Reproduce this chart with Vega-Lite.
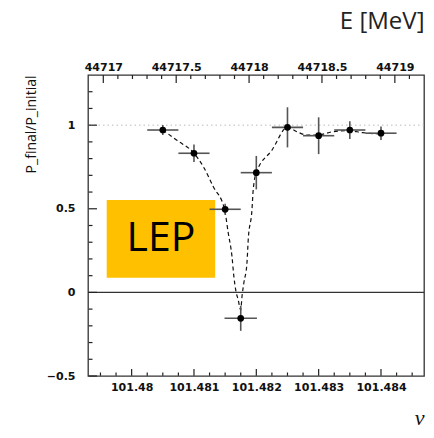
{
  "$schema": "https://vega.github.io/schema/vega-lite/v6.json",
  "width": 336,
  "height": 301,
  "autosize": "none",
  "padding": {"left": 88, "top": 75, "right": 10, "bottom": 62},
  "background": "white",
  "config": {
    "view": {"stroke": "#333", "strokeWidth": 1.3},
    "axis": {
      "labelFont": "DejaVu Sans",
      "labelFontWeight": "bold",
      "labelFontSize": 11,
      "labelColor": "#111",
      "ticks": false,
      "domain": false,
      "grid": false
    }
  },
  "datasets": {
    "points": [
      {"nu": 101.4805, "p": 0.971, "nuLo": 101.48025, "nuHi": 101.48075, "pLo": 0.941, "pHi": 1.001},
      {"nu": 101.481, "p": 0.832, "nuLo": 101.48075, "nuHi": 101.48125, "pLo": 0.779, "pHi": 0.885},
      {"nu": 101.4815, "p": 0.497, "nuLo": 101.48125, "nuHi": 101.48175, "pLo": 0.465, "pHi": 0.53},
      {"nu": 101.48175, "p": -0.155, "nuLo": 101.48149, "nuHi": 101.48201, "pLo": -0.23, "pHi": -0.08},
      {"nu": 101.482, "p": 0.716, "nuLo": 101.48175, "nuHi": 101.48225, "pLo": 0.616, "pHi": 0.816},
      {"nu": 101.4825, "p": 0.987, "nuLo": 101.48225, "nuHi": 101.48275, "pLo": 0.867, "pHi": 1.107},
      {"nu": 101.483, "p": 0.937, "nuLo": 101.48275, "nuHi": 101.48325, "pLo": 0.827, "pHi": 1.047},
      {"nu": 101.4835, "p": 0.971, "nuLo": 101.48325, "nuHi": 101.48375, "pLo": 0.918, "pHi": 1.024},
      {"nu": 101.484, "p": 0.952, "nuLo": 101.48375, "nuHi": 101.48425, "pLo": 0.912, "pHi": 0.992}
    ],
    "curve": [
      {"nu": 101.4805, "p": 0.971},
      {"nu": 101.48072, "p": 0.911},
      {"nu": 101.481, "p": 0.832},
      {"nu": 101.48115, "p": 0.752},
      {"nu": 101.48131, "p": 0.632},
      {"nu": 101.48149, "p": 0.497},
      {"nu": 101.48155, "p": 0.355},
      {"nu": 101.48161, "p": 0.214},
      {"nu": 101.48164, "p": 0.094},
      {"nu": 101.48167, "p": 0.014},
      {"nu": 101.48171, "p": -0.045},
      {"nu": 101.48175, "p": -0.105},
      {"nu": 101.48177, "p": -0.026},
      {"nu": 101.4818, "p": 0.056},
      {"nu": 101.48185, "p": 0.176},
      {"nu": 101.48187, "p": 0.313},
      {"nu": 101.48193, "p": 0.493},
      {"nu": 101.48195, "p": 0.612},
      {"nu": 101.482, "p": 0.716},
      {"nu": 101.48225, "p": 0.85},
      {"nu": 101.4825, "p": 0.987},
      {"nu": 101.48265, "p": 0.961},
      {"nu": 101.48281, "p": 0.941},
      {"nu": 101.48298, "p": 0.941},
      {"nu": 101.48323, "p": 0.961},
      {"nu": 101.48348, "p": 0.967},
      {"nu": 101.48371, "p": 0.955},
      {"nu": 101.48398, "p": 0.947}
    ],
    "box": [
      {"nu": 101.4796, "nu2": 101.48134, "p": 0.553, "p2": 0.088, "nuc": 101.48047, "pc": 0.322, "label": "LEP"}
    ],
    "nuMajor": [{"v": 101.48}, {"v": 101.481}, {"v": 101.482}, {"v": 101.483}, {"v": 101.484}],
    "nuMinor": [{"v": 101.4795}, {"v": 101.47975}, {"v": 101.48025}, {"v": 101.4805}, {"v": 101.48075}, {"v": 101.48125}, {"v": 101.4815}, {"v": 101.48175}, {"v": 101.48225}, {"v": 101.4825}, {"v": 101.48275}, {"v": 101.48325}, {"v": 101.4835}, {"v": 101.48375}, {"v": 101.48425}, {"v": 101.4845}],
    "pMajor": [{"w": -0.5}, {"w": 0}, {"w": 0.5}, {"w": 1}],
    "pMinor": [{"w": -0.4}, {"w": -0.3}, {"w": -0.2}, {"w": -0.1}, {"w": 0.1}, {"w": 0.2}, {"w": 0.3}, {"w": 0.4}, {"w": 0.6}, {"w": 0.7}, {"w": 0.8}, {"w": 0.9}, {"w": 1.1}, {"w": 1.2}],
    "eMajor": [{"e": 44717}, {"e": 44717.5}, {"e": 44718}, {"e": 44718.5}, {"e": 44719}],
    "eMinor": [{"e": 44717.1}, {"e": 44717.2}, {"e": 44717.3}, {"e": 44717.4}, {"e": 44717.6}, {"e": 44717.7}, {"e": 44717.8}, {"e": 44717.9}, {"e": 44718.1}, {"e": 44718.2}, {"e": 44718.3}, {"e": 44718.4}, {"e": 44718.6}, {"e": 44718.7}, {"e": 44718.8}, {"e": 44718.9}, {"e": 44719.1}]
  },
  "layer": [
    {
      "layer": [
        {
          "data": {"name": "box"},
          "mark": {"type": "rect", "color": "#FFC000"},
          "encoding": {
            "x": {
              "field": "nu", "type": "quantitative",
              "scale": {"domain": [101.4793, 101.48469], "zero": false, "nice": false},
              "axis": {
                "orient": "bottom",
                "values": [101.48, 101.481, 101.482, 101.483, 101.484],
                "format": ".3~f",
                "labelPadding": 5,
                "title": "ν",
                "titleFont": "Liberation Serif",
                "titleFontStyle": "italic",
                "titleFontWeight": "normal",
                "titleFontSize": 22,
                "titleColor": "#111",
                "titleAnchor": "end",
                "titlePadding": 15
              }
            },
            "x2": {"field": "nu2"},
            "y": {
              "field": "p", "type": "quantitative",
              "scale": {"domain": [-0.5, 1.3], "zero": false, "nice": false},
              "axis": {
                "orient": "left",
                "values": [-0.5, 0, 0.5, 1],
                "format": "~g",
                "labelPadding": 13,
                "title": "P_final/P_initial",
                "titleFont": "Open Sans",
                "titleFontWeight": "normal",
                "titleFontSize": 14,
                "titleColor": "#111",
                "titleAnchor": "end",
                "titlePadding": 8
              }
            },
            "y2": {"field": "p2"}
          }
        },
        {
          "data": {"name": "box"},
          "mark": {"type": "text", "font": "Open Sans", "fontSize": 41, "color": "#000", "baseline": "middle", "align": "center"},
          "encoding": {
            "x": {"field": "nuc", "type": "quantitative", "scale": {"domain": [101.4793, 101.48469], "zero": false, "nice": false}},
            "y": {"field": "pc", "type": "quantitative", "scale": {"domain": [-0.5, 1.3], "zero": false, "nice": false}},
            "text": {"field": "label"}
          }
        },
        {
          "data": {"name": "box"},
          "mark": {"type": "rule", "color": "#333", "strokeWidth": 1.3},
          "encoding": {
            "y": {"datum": 0, "type": "quantitative", "scale": {"domain": [-0.5, 1.3], "zero": false, "nice": false}}
          }
        },
        {
          "data": {"name": "box"},
          "mark": {"type": "rule", "color": "#bbb", "strokeWidth": 1, "strokeDash": [1.5, 3]},
          "encoding": {
            "y": {"datum": 1, "type": "quantitative", "scale": {"domain": [-0.5, 1.3], "zero": false, "nice": false}}
          }
        },
        {
          "data": {"name": "nuMajor"},
          "mark": {"type": "rule", "color": "#222", "strokeWidth": 1.2, "strokeCap": "butt"},
          "encoding": {
            "x": {"field": "v", "type": "quantitative", "scale": {"domain": [101.4793, 101.48469], "zero": false, "nice": false}},
            "y": {"datum": -0.458, "type": "quantitative", "scale": {"domain": [-0.5, 1.3], "zero": false, "nice": false}},
            "y2": {"datum": -0.4985}
          }
        },
        {
          "data": {"name": "nuMinor"},
          "mark": {"type": "rule", "color": "#222", "strokeWidth": 1.2, "strokeCap": "butt"},
          "encoding": {
            "x": {"field": "v", "type": "quantitative", "scale": {"domain": [101.4793, 101.48469], "zero": false, "nice": false}},
            "y": {"datum": -0.479, "type": "quantitative", "scale": {"domain": [-0.5, 1.3], "zero": false, "nice": false}},
            "y2": {"datum": -0.4985}
          }
        },
        {
          "data": {"name": "pMajor"},
          "mark": {"type": "rule", "color": "#222", "strokeWidth": 1.2, "strokeCap": "butt"},
          "encoding": {
            "y": {"field": "w", "type": "quantitative", "scale": {"domain": [-0.5, 1.3], "zero": false, "nice": false}},
            "x": {"datum": 101.479444, "type": "quantitative", "scale": {"domain": [101.4793, 101.48469], "zero": false, "nice": false}},
            "x2": {"datum": 101.479311}
          }
        },
        {
          "data": {"name": "pMinor"},
          "mark": {"type": "rule", "color": "#222", "strokeWidth": 1.2, "strokeCap": "butt"},
          "encoding": {
            "y": {"field": "w", "type": "quantitative", "scale": {"domain": [-0.5, 1.3], "zero": false, "nice": false}},
            "x": {"datum": 101.479372, "type": "quantitative", "scale": {"domain": [101.4793, 101.48469], "zero": false, "nice": false}},
            "x2": {"datum": 101.479311}
          }
        },
        {
          "data": {"name": "curve"},
          "mark": {"type": "line", "color": "#111", "strokeWidth": 1.2, "strokeDash": [4, 3], "interpolate": "monotone"},
          "encoding": {
            "x": {"field": "nu", "type": "quantitative", "scale": {"domain": [101.4793, 101.48469], "zero": false, "nice": false}},
            "y": {"field": "p", "type": "quantitative", "scale": {"domain": [-0.5, 1.3], "zero": false, "nice": false}}
          }
        },
        {
          "data": {"name": "points"},
          "mark": {"type": "rule", "color": "#555", "strokeWidth": 1.6},
          "encoding": {
            "x": {"field": "nuLo", "type": "quantitative", "scale": {"domain": [101.4793, 101.48469], "zero": false, "nice": false}},
            "x2": {"field": "nuHi"},
            "y": {"field": "p", "type": "quantitative", "scale": {"domain": [-0.5, 1.3], "zero": false, "nice": false}}
          }
        },
        {
          "data": {"name": "points"},
          "mark": {"type": "rule", "color": "#555", "strokeWidth": 1.6},
          "encoding": {
            "x": {"field": "nu", "type": "quantitative", "scale": {"domain": [101.4793, 101.48469], "zero": false, "nice": false}},
            "y": {"field": "pLo", "type": "quantitative", "scale": {"domain": [-0.5, 1.3], "zero": false, "nice": false}},
            "y2": {"field": "pHi"}
          }
        },
        {
          "data": {"name": "points"},
          "mark": {"type": "point", "filled": true, "color": "#000", "size": 45, "opacity": 1},
          "encoding": {
            "x": {"field": "nu", "type": "quantitative", "scale": {"domain": [101.4793, 101.48469], "zero": false, "nice": false}},
            "y": {"field": "p", "type": "quantitative", "scale": {"domain": [-0.5, 1.3], "zero": false, "nice": false}}
          }
        }
      ]
    },
    {
      "layer": [
        {
          "data": {"name": "eMajor"},
          "mark": {"type": "tick", "orient": "vertical", "size": 16, "thickness": 1.2, "color": "#222", "opacity": 1, "clip": true},
          "encoding": {
            "x": {
              "field": "e", "type": "quantitative",
              "scale": {"domain": [44716.895, 44719.2], "zero": false, "nice": false},
              "axis": {
                "orient": "top",
                "values": [44717, 44717.5, 44718, 44718.5, 44719],
                "format": ".1~f",
                "labelPadding": 3,
                "title": "E [MeV]",
                "titleFont": "Open Sans",
                "titleFontWeight": "normal",
                "titleFontSize": 24,
                "titleColor": "#222",
                "titleAnchor": "end",
                "titlePadding": 28
              }
            },
            "y": {"datum": 1.3, "type": "quantitative", "scale": {"domain": [-0.5, 1.3], "zero": false, "nice": false}, "axis": null}
          }
        },
        {
          "data": {"name": "eMinor"},
          "mark": {"type": "tick", "orient": "vertical", "size": 8, "thickness": 1.2, "color": "#222", "opacity": 1, "clip": true},
          "encoding": {
            "x": {"field": "e", "type": "quantitative", "scale": {"domain": [44716.895, 44719.2], "zero": false, "nice": false}},
            "y": {"datum": 1.3, "type": "quantitative", "scale": {"domain": [-0.5, 1.3], "zero": false, "nice": false}}
          }
        }
      ]
    }
  ],
  "resolve": {"scale": {"x": "independent", "y": "independent"}}
}
